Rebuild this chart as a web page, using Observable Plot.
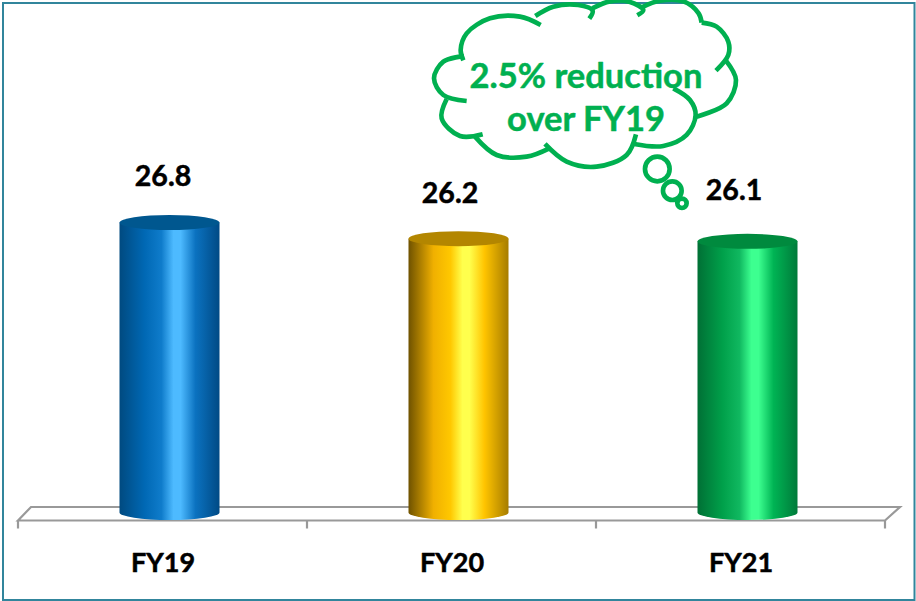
<!DOCTYPE html>
<html>
<head>
<meta charset="utf-8">
<script src="https://cdn.jsdelivr.net/npm/d3@7"></script>
<script src="https://cdn.jsdelivr.net/npm/@observablehq/plot@0.6"></script>
<style>
  html, body { margin: 0; padding: 0; background: #fff; }
  svg { display: block; }
</style>
</head>
<body>
<div id="chart"></div>
<script>
const years = ["FY19", "FY20", "FY21"];
const values = [26.8, 26.2, 26.1];
const tickLabels = ["26.8", "26.2", "26.1"];
const sideStops = [
  ["#004a80", "#0068b4", "#0f7ccb", "#4dbaff", "#4dbaff", "#0b72c0", "#004a85"],
  ["#6f5200", "#f0b000", "#ffc800", "#ffff4d", "#ffff4d", "#ffc400", "#a67c00"],
  ["#007035", "#00a04a", "#10b860", "#3dff90", "#3dff90", "#00b454", "#007a3a"]
];
const stopOffsets = [0, 0.25, 0.42, 0.54, 0.61, 0.76, 1];
const capColors = ["#00578f", "#b38600", "#008a3e"];
const calloutLines = ["2.5% reduction", "over FY19"];

// Outline of the thought cloud, one list per lobe.
const cloudLobes = [
  [[100,181],[92,150],[110,100],[180,55],[270,50],[332,75]],
  [[316,48],[370,20],[445,15],[488,32],[478,56]],
  [[487,25],[540,4],[600,6],[640,30],[622,46]],
  [[635,22],[690,2],[760,4],[806,40],[815,68]],
  [[815,68],[860,80],[895,125],[895,165],[858,212]],
  [[888,182],[918,240],[890,310],[800,350]],
  [[730,265],[780,300],[797,345],[770,405],[700,438],[612,432]],
  [[618,403],[590,465],[500,500],[410,485],[345,432]],
  [[358,445],[290,470],[200,465],[135,410]],
  [[158,403],[90,408],[35,355],[50,297]],
  [[110,303],[40,285],[12,235],[40,185],[102,168]]
];
const bubbles = [[682,507,37],[727,572,28],[756,610,14]];

const baseValue = 16;
const capRy = 7.5;
const capRx = 50;
const depthShift = 7;

const table = years.map((year, i) => ({year, value: values[i], label: tickLabels[i], i}));
const ns = "http://www.w3.org/2000/svg";
const el = (name, attrs = {}) => {
  const node = document.createElementNS(ns, name);
  for (const [k, v] of Object.entries(attrs)) node.setAttribute(k, v);
  return node;
};

// Gradient definitions used by the cylinder sides.
function gradients() {
  const defs = el("defs");
  sideStops.forEach((stops, i) => {
    const g = el("linearGradient", {id: `side-${i}`, x1: 0, x2: 1, y1: 0, y2: 0});
    stopOffsets.forEach((o, j) =>
      g.appendChild(el("stop", {offset: o, "stop-color": stops[j]})));
    defs.appendChild(g);
  });
  return defs;
}

// The sloped floor and its tick marks, positioned from the band scale.
function floor(index, {x, y}) {
  const g = el("g", {fill: "none", stroke: "#999", "stroke-width": 2.2});
  const step = x.bandwidth();
  const left = x(years[0]);
  const right = x(years[2]) + step;
  const front = y(baseValue) + 8;
  const back = y(baseValue) - 5.5;
  g.appendChild(el("path", {d: `M${left},${front}L${left + 13},${back}L${right + 15},${back}L${right},${front}Z`}));
  [0, 1, 2, 3].forEach(k => {
    const tx = left + k * step;
    g.appendChild(el("line", {x1: tx, x2: tx, y1: front, y2: front + 8}));
  });
  return g;
}

// Cylinders: side body, bottom curve and top cap.
function cylinders(index, {x, y}) {
  const g = el("g");
  g.appendChild(gradients());
  table.forEach(d => {
    const cx = x(d.year) + x.bandwidth() / 2 + depthShift;
    const top = y(d.value);
    const bottom = y(baseValue);
    g.appendChild(el("path", {
      d: `M${cx - capRx},${top}V${bottom}A${capRx},${capRy} 0 0 0 ${cx + capRx},${bottom}V${top}Z`,
      fill: `url(#side-${d.i})`
    }));
    g.appendChild(el("ellipse", {cx, cy: top, rx: capRx, ry: capRy, fill: capColors[d.i]}));
  });
  return g;
}

// Thought cloud with its trailing bubbles.
function cloud() {
  const g = el("g", {transform: "translate(430,0) scale(0.3333)", fill: "none", stroke: "#00B050", "stroke-width": 14});
  const line = d3.line().curve(d3.curveCatmullRom.alpha(0.5));
  cloudLobes.forEach(points => g.appendChild(el("path", {d: line(points)})));
  bubbles.forEach(([cx, cy, r]) => g.appendChild(el("circle", {cx, cy, r})));
  return g;
}

// Bold face with a hairline stroke for the heavier look of the labels.
const heavy = color => ({fontWeight: 700, fill: color, stroke: color, strokeWidth: 0.5, paintOrder: "normal"});

const valueLabel = (d, dx, dy) => Plot.text([d], {
  x: "year", y: "value", text: "label", dx, dy, fontSize: 28.5, ...heavy("#000")
});

const plot = Plot.plot({
  width: 916,
  height: 601,
  marginTop: 0, marginRight: 0, marginBottom: 0, marginLeft: 0,
  style: {background: "transparent", fontFamily: "Lato, sans-serif"},
  x: {type: "band", domain: years, range: [17.5, 884.5], padding: 0, align: 0.5, axis: null},
  y: {domain: [baseValue, 28], range: [512.5, 190.3], axis: null},
  marks: [
    Plot.frame({stroke: "#31859C", strokeWidth: 2, insetTop: 2.5, insetLeft: 2.5, insetRight: 2, insetBottom: 1.5}),
    floor,
    cylinders,
    valueLabel(table[0], 0, -46),
    valueLabel(table[1], -2, -45.5),
    valueLabel(table[2], -7, -51),
    Plot.text(table, {
      x: "year", y: () => baseValue, text: "year", dy: 50,
      fontSize: 27, ...heavy("#000")
    }),
    cloud,
    Plot.text(calloutLines, {
      x: () => "FY20", y: (d, i) => 28 + (i === 0 ? 4.25 : 2.65),
      text: d => d, dx: 134,
      fontSize: 34.5, ...heavy("#00B050")
    })
  ]
});
document.getElementById("chart").appendChild(plot);
</script>
</body>
</html>
